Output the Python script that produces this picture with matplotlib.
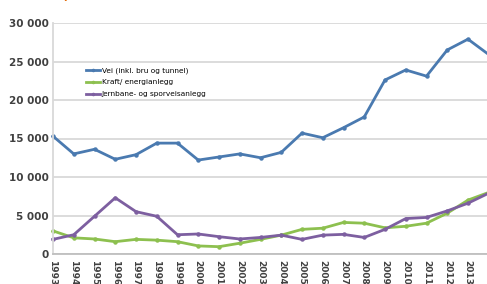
import numpy as np
import matplotlib
matplotlib.use("Agg")
import matplotlib.pyplot as plt
from matplotlib.ticker import FuncFormatter

years = list(range(1993, 2015))
vei = [15300, 13000, 13600, 12300, 12900, 14400, 14400, 12200, 12600, 13000, 12500,
       13200, 15700, 15100, 16400, 17800, 22600, 23900, 23100, 26500, 27900, 25900]
kraft = [3000, 2100, 1950, 1600, 1900, 1800, 1600, 1050, 950, 1400, 1900,
         2450, 3200, 3350, 4100, 4000, 3400, 3600, 4000, 5300, 7000, 8000]
jernbane = [1900, 2500, 4900, 7300, 5500, 4900, 2500, 2600, 2250, 1950, 2150,
            2450, 1900, 2450, 2550, 2150, 3200, 4600, 4750, 5600, 6600, 7900]
labels = ["Vei (inkl. bru og tunnel)", "Kraft/ energianlegg", "Jernbane- og sporveisanlegg"]
colors = ["#4A7AB0", "#8DC04F", "#7D5FA0"]

W, H = 487, 284
fig = plt.figure(figsize=(W / 100, H / 100), dpi=100)
# axes runs past the right edge, like the cropped original
x0, x1 = 53, 53 + 21.5 * 20.75
y0, y1 = 254, 23
ax = fig.add_axes([x0 / W, 1 - y0 / H, (x1 - x0) / W, (y0 - y1) / H])

for vals, lab, c in zip([vei, kraft, jernbane], labels, colors):
    ax.plot(years, vals, color=c, lw=2, marker="o", ms=2.2, label=lab,
            solid_joinstyle="round", clip_on=False)

ax.set_xlim(1993, 2014.5)
ax.set_ylim(0, 30000)
ax.set_yticks(range(0, 30001, 5000))
ax.yaxis.set_major_formatter(FuncFormatter(lambda v, p: f"{int(v):,}".replace(",", " ")))
ax.set_xticks(years)
ax.set_xticklabels([str(y) for y in years], rotation=-90, fontsize=6.5,
                   color="#404040", fontweight="bold")
for t in ax.get_yticklabels():
    t.set_fontsize(7.5)
    t.set_color("#404040")
    t.set_fontweight("bold")
ax.tick_params(axis="both", length=0, pad=3)
ax.tick_params(axis="x", pad=4)
ax.grid(axis="y", color="#d9d9d9", lw=1.3)
ax.set_axisbelow(True)
for s in ["top", "right"]:
    ax.spines[s].set_visible(False)
ax.spines["left"].set_color("#d9d9d9")
ax.spines["left"].set_linewidth(1.3)
ax.spines["bottom"].set_color("#bfbfbf")
ax.spines["bottom"].set_linewidth(1.3)

ax.legend(loc="upper left", bbox_to_anchor=(0.065, 0.825), frameon=False, fontsize=5.3,
          handlelength=2.0, handletextpad=0.15, labelspacing=0.75, borderpad=0,
          markerscale=0.7)

fig.text(63 / W, 1.015, "p", color="#E36C0A", fontsize=7, fontweight="bold",
         ha="left", va="center")

fig.savefig("out.png", dpi=100)
